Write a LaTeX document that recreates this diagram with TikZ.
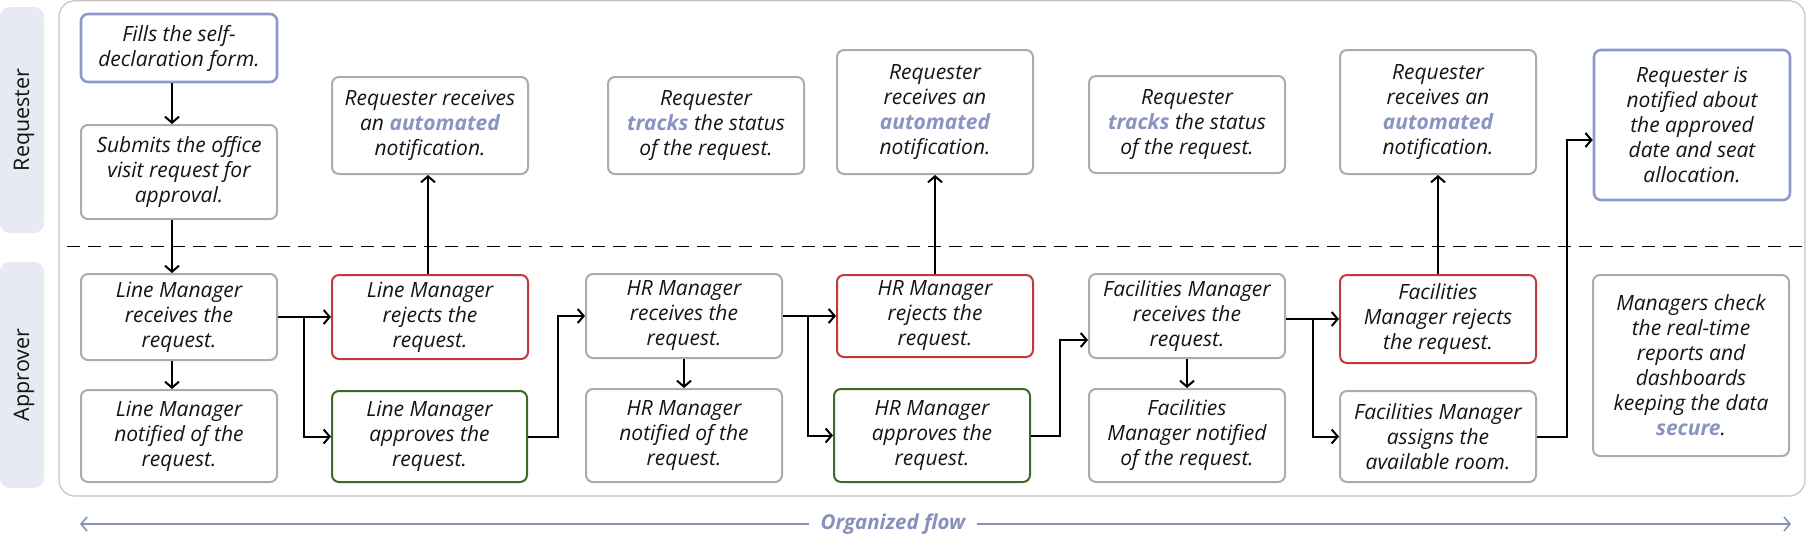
\documentclass[tikz,border=0pt]{standalone}
\usepackage{fontspec}
\setmainfont{Open Sans}
\usetikzlibrary{arrows.meta}
\definecolor{boxgray}{HTML}{ABABAB}
\definecolor{hlblue}{HTML}{8A94C2}
\definecolor{bluebd}{HTML}{8E9ACB}
\definecolor{redbd}{HTML}{C0393B}
\definecolor{greenbd}{HTML}{3B6A22}
\definecolor{bandc}{HTML}{E7E9F3}
\definecolor{framec}{HTML}{C9C1C1}
\definecolor{flowc}{HTML}{8790B8}
\definecolor{inkc}{HTML}{151515}
\newcommand\hl[1]{{\bfseries\color{hlblue}#1}}
\newcommand\bx[7]{\node[#6, minimum width={#4-#2}, minimum height={#5-#3}] (#1) at ({(#2+#4)/2},{(#3+#5)/2}) {#7};}
\begin{document}
\begin{tikzpicture}[x=1pt,y=-1pt,
 card/.style={draw=boxgray, line width=2pt, rounded corners=7pt, fill=white, align=center, text=inkc,
   font=\fontsize{21}{25}\selectfont\itshape, inner sep=0pt},
 bluecard/.style={card, draw=bluebd, line width=2.6pt},
 redcard/.style={card, draw=redbd},
 greencard/.style={card, draw=greenbd},
 conn/.style={line width=2pt, -{Straight Barb[length=6pt,width=14pt]}},
 lane/.style={fill=bandc, rounded corners=10pt},
 lanelabel/.style={rotate=90, font=\fontsize{21.5}{24}\selectfont, text=inkc},
]
\useasboundingbox (0,0) rectangle (1806,536);
% lanes
\fill[lane] (0,7) rectangle (44,233);
\fill[lane] (0,262) rectangle (44,488);
\node[lanelabel] (lreq) at (24,120) {Requester};
\node[lanelabel] (lapp) at (24,375) {Approver};
% frame
\draw[framec, line width=1.2pt, rounded corners=16pt] (59,0.8) rectangle (1805,496);
% divider
\coordinate (dl) at (67,246);
\coordinate (dr) at (1806,246);
\draw[dash pattern=on 13pt off 8pt, line width=0.9pt] (dl) -- (dr);
% boxes
\bx{fill}{81}{14}{277}{82}{bluecard}{Fills the self-\\declaration form.}
\bx{submit}{81}{125}{277}{219}{card}{Submits the office\\visit request for\\approval.}
\bx{lmrec}{81}{274}{277}{360}{card}{Line Manager\\receives the\\request.}
\bx{lmnot}{81}{390}{277}{482}{card}{Line Manager\\notified of the\\request.}
\bx{lmrej}{332}{275}{528}{359}{redcard}{Line Manager\\rejects the\\request.}
\bx{lmapp}{332}{391}{527}{482}{greencard}{Line Manager\\approves the\\request.}
\bx{rnot1}{332}{77}{528}{174}{card}{Requester receives\\an \hl{automated}\\notification.}
\bx{track1}{608}{77}{804}{174}{card}{Requester\\\hl{tracks} the status\\of the request.}
\bx{hrrec}{586}{274}{782}{358}{card}{HR Manager\\receives the\\request.}
\bx{hrnot}{586}{389}{782}{482}{card}{HR Manager\\notified of the\\request.}
\bx{rnot2}{837}{50}{1033}{174}{card}{Requester\\receives an\\\hl{automated}\\notification.}
\bx{hrrej}{837}{275}{1033}{357}{redcard}{HR Manager\\rejects the\\request.}
\bx{hrapp}{834}{389}{1030}{482}{greencard}{HR Manager\\approves the\\request.}
\bx{track2}{1089}{76}{1285}{173}{card}{Requester\\\hl{tracks} the status\\of the request.}
\bx{fmrec}{1089}{274}{1285}{358}{card}{Facilities Manager\\receives the\\request.}
\bx{fmnot}{1089}{389}{1285}{482}{card}{Facilities\\Manager notified\\of the request.}
\bx{rnot3}{1340}{50}{1536}{174}{card}{Requester\\receives an\\\hl{automated}\\notification.}
\bx{fmrej}{1340}{275}{1536}{363}{redcard}{Facilities\\Manager rejects\\the request.}
\bx{fmasg}{1340}{391}{1536}{482}{card}{Facilities Manager\\assigns the\\available room.}
\bx{final}{1594}{50}{1790}{200}{bluecard}{Requester is\\notified about\\the approved\\date and seat\\allocation.}
\bx{mgr}{1593}{275}{1789}{456}{card}{Managers check\\the real-time\\reports and\\dashboards\\keeping the data\\\hl{secure}.}
% connectors
\draw[conn] ([xshift=-7pt]fill.south) -- ([xshift=-7pt]submit.north);
\draw[conn] ([xshift=-7pt]submit.south) -- ([xshift=-7pt]lmrec.north);
\draw[conn] ([xshift=-7pt]lmrec.south) -- ([xshift=-7pt]lmnot.north);
\draw[conn] (lmrec.east) -- (lmrec.east -| lmrej.west);
\draw[conn] (lmrec.east) -- ++(26,0) |- (lmapp.west);
\draw[conn] ([xshift=-2pt]lmrej.north) -- ([xshift=-2pt]rnot1.south);
\draw[conn] (lmapp.east) -- ++(30,0) |- (hrrec.west);
\draw[conn] (hrrec.south) -- (hrnot.north);
\draw[conn] (hrrec.east) -- (hrrec.east -| hrrej.west);
\draw[conn] (hrrec.east) -- ++(25,0) |- (hrapp.west);
\draw[conn] (hrrej.north) -- (rnot2.south);
\draw[conn] (hrapp.east) -- ++(29,0) |- ([yshift=-24pt]fmrec.west);
\draw[conn] (fmrec.south) -- (fmnot.north);
\draw[conn] (fmrej.west -| fmrec.east) -- (fmrej.west);
\draw[conn] (fmrej.west -| fmrec.east) -- ++(27,0) |- (fmasg.west);
\draw[conn] (fmrej.north) -- (rnot3.south);
\draw[conn] (fmasg.east) -- ++(30,0) |- ([yshift=-15pt]final.west);
% organized flow
\node[font=\fontsize{20.5}{23}\selectfont\bfseries\itshape, text=flowc, inner xsep=11pt, inner ysep=2pt] (flow) at (893,524) {Organized flow};
\coordinate (fl) at (80,524);
\coordinate (fr) at (1791,524);
\draw[flowc, line width=1.6pt, -{Straight Barb[length=6pt,width=14pt]}] (flow.west) -- (fl);
\draw[flowc, line width=1.6pt, -{Straight Barb[length=6pt,width=14pt]}] (flow.east) -- (fr);
\end{tikzpicture}
\end{document}
